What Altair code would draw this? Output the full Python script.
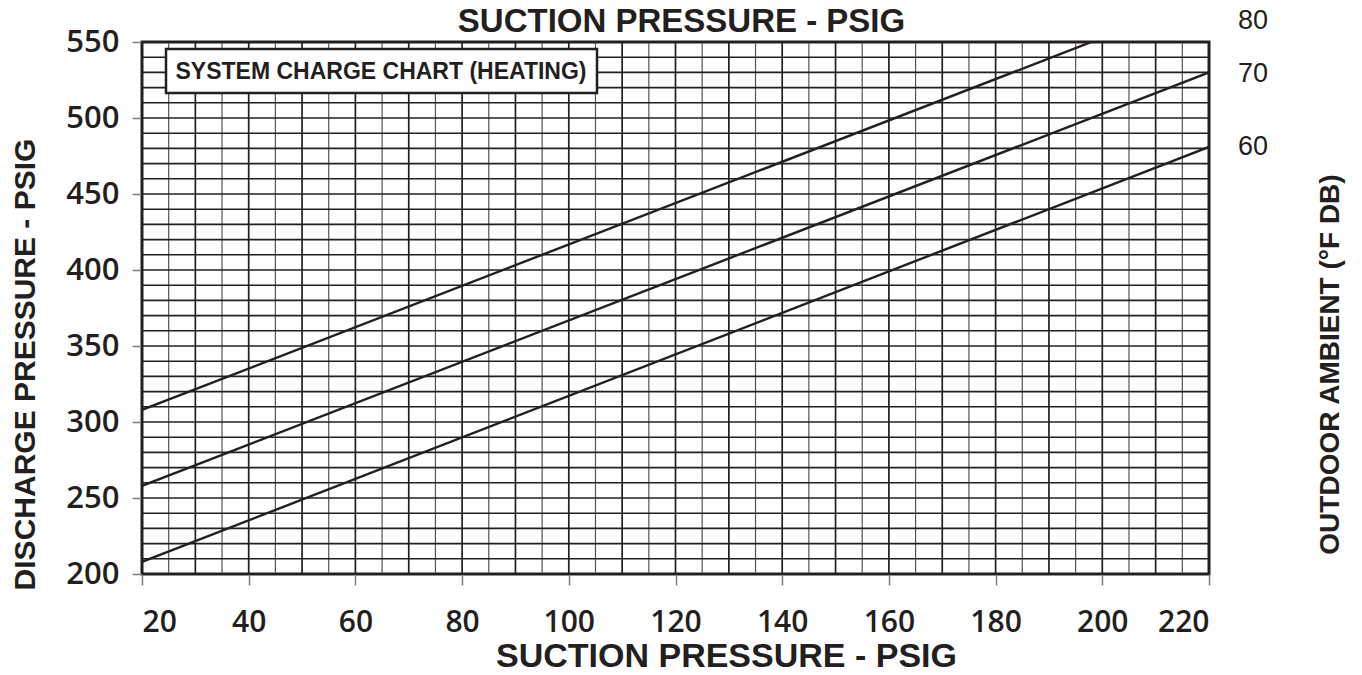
import altair as alt
import pandas as pd

# ---- data ----
suction_ends = [20, 220]                 # suction pressure (psig) at both ends of each line
discharge_60 = [208, 481]                # discharge pressure (psig) for 60 °F outdoor
discharge_70 = [258, 530]                # 70 °F
discharge_80 = [308, 580]                # 80 °F (runs off the top of the chart)
temps = [60, 70, 80]
temp_label_y = [481, 529, 564]           # where each temperature label sits (discharge psig)
x_ticks = [20, 40, 60, 80, 100, 120, 140, 160, 180, 200, 220]
y_ticks = [200, 250, 300, 350, 400, 450, 500, 550]
grid_x = [20, 25, 30, 35, 40, 45, 50, 55, 60, 65, 70, 75, 80, 85, 90, 95, 100, 105, 110,
          115, 120, 125, 130, 135, 140, 145, 150, 155, 160, 165, 170, 175, 180, 185, 190,
          195, 200, 205, 210, 215, 220]
grid_y = [200, 210, 220, 230, 240, 250, 260, 270, 280, 290, 300, 310, 320, 330, 340, 350,
          360, 370, 380, 390, 400, 410, 420, 430, 440, 450, 460, 470, 480, 490, 500, 510,
          520, 530, 540, 550]

INK = "#231f20"
TITLE_FONT = "Liberation Sans"
NUM_FONT = "Open Sans"

rows = []
for t, vals in zip(temps, [discharge_60, discharge_70, discharge_80]):
    for s, d in zip(suction_ends, vals):
        rows.append({"temp": t, "suction": s, "discharge": d})
lines_df = pd.DataFrame(rows)
gx_df = pd.DataFrame({"gx": grid_x})
gy_df = pd.DataFrame({"gy": grid_y})
lab_df = pd.DataFrame({"temp": [str(t) for t in temps], "ly": temp_label_y,
                       "lx": [suction_ends[-1]] * len(temps)})

xscale = alt.Scale(domain=[20, 220], nice=False, zero=False)
yscale = alt.Scale(domain=[200, 550], nice=False, zero=False)

bottom_axis = alt.Axis(
    orient="bottom", values=x_ticks, grid=False, domain=False,
    tickSize=11, tickColor="#808080", tickWidth=1.5,
    labelFont=NUM_FONT, labelFontSize=30, labelFontWeight=600, labelColor=INK,
    labelPadding=22,
    title="SUCTION PRESSURE - PSIG", titleFont=TITLE_FONT, titleFontSize=34,
    titleFontWeight="bold", titleColor=INK, titleX=584, titleY=92,
    titleAlign="center", titleBaseline="alphabetic",
)
left_axis = alt.Axis(
    orient="left", values=y_ticks, grid=False, domain=False,
    tickSize=10, tickColor="#808080", tickWidth=1.5,
    labelFont=NUM_FONT, labelFontSize=31, labelFontWeight=600, labelColor=INK,
    labelPadding=13,
    title="DISCHARGE PRESSURE - PSIG", titleFont=TITLE_FONT, titleFontSize=30,
    titleFontWeight="bold", titleColor=INK, titleAngle=270, titleX=-117, titleY=322,
    titleAlign="center", titleBaseline="middle",
)
top_axis = alt.Axis(
    orient="top", labels=False, ticks=False, domain=False, grid=False,
    title="SUCTION PRESSURE - PSIG", titleFont=TITLE_FONT, titleFontSize=33,
    titleFontWeight="bold", titleColor=INK, titleX=539, titleY=-11,
    titleAlign="center", titleBaseline="alphabetic",
)
right_axis = alt.Axis(
    orient="right", labels=False, ticks=False, domain=False, grid=False,
    title="OUTDOOR AMBIENT (°F DB)", titleFont=TITLE_FONT, titleFontSize=28,
    titleFontWeight="bold", titleColor=INK, titleAngle=270, titleX=121, titleY=322,
    titleAlign="center", titleBaseline="middle",
)

vgrid = alt.Chart(gx_df).mark_rule().encode(
    x=alt.X("gx:Q", scale=xscale, axis=bottom_axis),
    color=alt.condition("datum.gx % 10 == 0", alt.value(INK), alt.value("#555555")),
    strokeWidth=alt.condition("datum.gx % 10 == 0", alt.value(1.7), alt.value(1.2)),
)
hgrid = alt.Chart(gy_df).mark_rule(color=INK, strokeWidth=1.6).encode(
    y=alt.Y("gy:Q", scale=yscale, axis=left_axis),
)
lines = alt.Chart(lines_df).mark_line(color=INK, strokeWidth=2.4, clip=True).encode(
    x=alt.X("suction:Q", scale=xscale, axis=top_axis),
    y=alt.Y("discharge:Q", scale=yscale, axis=right_axis),
    detail="temp:N",
)
box = alt.Chart(pd.DataFrame({"k": [0]})).mark_rect(
    fill="white", stroke=INK, strokeWidth=2.5
).encode(x=alt.value(24), x2=alt.value(455), y=alt.value(7), y2=alt.value(51))
box_text = alt.Chart(pd.DataFrame({"t": ["SYSTEM CHARGE CHART (HEATING)"]})).mark_text(
    font=TITLE_FONT, fontSize=23, fontWeight="bold", color=INK,
    align="center", baseline="middle"
).encode(x=alt.value(239), y=alt.value(30), text="t:N")
temp_labels = alt.Chart(lab_df).mark_text(
    font=TITLE_FONT, fontSize=27, color=INK, align="center", baseline="middle", dx=44
).encode(
    x=alt.X("lx:Q", scale=xscale, axis=None),
    y=alt.Y("ly:Q", scale=yscale, axis=None),
    text="temp:N",
)

chart = alt.layer(vgrid, hgrid, lines, box, box_text, temp_labels).resolve_axis(
    x="independent", y="independent"
).properties(
    width=1067, height=532,
    autosize=alt.AutoSizeParams(type="none"),
    padding={"left": 134, "top": 34, "right": 145, "bottom": 93},
).configure_view(stroke=INK, strokeWidth=3)

chart.save("out.html", embed_options={"renderer": "svg", "actions": False})
